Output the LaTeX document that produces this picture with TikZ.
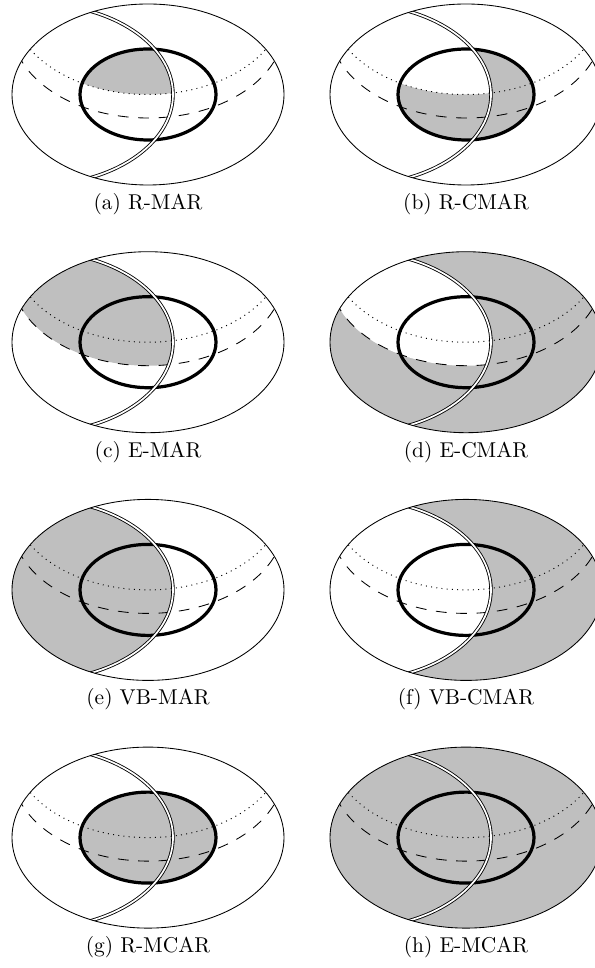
\documentclass[tikz,border=0pt]{standalone}
\tikzset{
  outerline/.style={line width=0.4pt},
  innerline/.style={line width=1.5pt},
  dblline/.style={double, double distance=0.8pt, line width=0.4pt},
  dotline/.style={dotted, line width=0.45pt},
  dashline/.style={dash pattern=on 5pt off 4.5pt, line width=0.4pt},
  shaded/.style={fill=black!25},
  blank/.style={fill=white},
  lbl/.style={anchor=base, inner sep=0pt, font=\normalsize},
}
\newcommand\pBig{(0,0) ellipse [x radius=136, y radius=90.5]}
\newcommand\pThick{(0,0) ellipse [x radius=68, y radius=45.5]}
\newcommand\pDot{(0,90.5) ellipse [x radius=136, y radius=90.5]}
\newcommand\pDash{(0,67) ellipse [x radius=136, y radius=90.5]}
\newcommand\pVB{(-111,0) ellipse [x radius=136, y radius=90.5]}
\newcommand\panelLines{%
  \draw[innerline] \pThick;
  \begin{scope}
    \clip \pBig;
    \draw[dotline] \pDot;
    \draw[dashline] \pDash;
    \draw[dblline] \pVB;
  \end{scope}
  \draw[outerline] \pBig;
}
\begin{document}
\begin{tikzpicture}[x=0.46664pt, y=0.46664pt]
\useasboundingbox (0,0) rectangle (594,-968);
% (a)
\begin{scope}[shift={(148,-94.5)}]
  \begin{scope}\clip \pThick; \clip \pDot; \fill[shaded] \pVB;\end{scope}
  \panelLines
  \node[lbl] (la) at (0,-115) {(a) R-MAR};
\end{scope}
% (b)
\begin{scope}[shift={(466,-94.5)}]
  \fill[shaded] \pThick;
  \begin{scope}\clip \pThick; \clip \pDot; \fill[blank] \pVB;\end{scope}
  \panelLines
  \node[lbl] (lb) at (0,-115) {(b) R-CMAR};
\end{scope}
% (c)
\begin{scope}[shift={(148,-342.2)}]
  \begin{scope}\clip \pBig; \clip \pDash; \fill[shaded] \pVB;\end{scope}
  \panelLines
  \node[lbl] (lc) at (0,-115) {(c) E-MAR};
\end{scope}
% (d)
\begin{scope}[shift={(466,-342.2)}]
  \fill[shaded] \pBig;
  \begin{scope}\clip \pBig; \clip \pDash; \fill[blank] \pVB;\end{scope}
  \panelLines
  \node[lbl] (ld) at (0,-115) {(d) E-CMAR};
\end{scope}
% (e)
\begin{scope}[shift={(148,-589.9)}]
  \begin{scope}\clip \pBig; \fill[shaded] \pVB;\end{scope}
  \panelLines
  \node[lbl] (le) at (0,-115) {(e) VB-MAR};
\end{scope}
% (f)
\begin{scope}[shift={(466,-589.9)}]
  \fill[shaded] \pBig;
  \begin{scope}\clip \pBig; \fill[blank] \pVB;\end{scope}
  \panelLines
  \node[lbl] (lf) at (0,-115) {(f) VB-CMAR};
\end{scope}
% (g)
\begin{scope}[shift={(148,-837.6)}]
  \fill[shaded] \pThick;
  \panelLines
  \node[lbl] (lg) at (0,-115) {(g) R-MCAR};
\end{scope}
% (h)
\begin{scope}[shift={(466,-837.6)}]
  \fill[shaded] \pBig;
  \panelLines
  \node[lbl] (lh) at (0,-115) {(h) E-MCAR};
\end{scope}
\end{tikzpicture}
\end{document}
